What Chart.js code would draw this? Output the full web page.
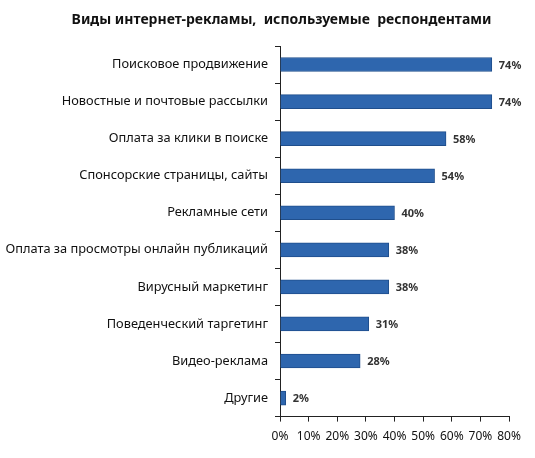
<!DOCTYPE html>
<html>
<head>
<meta charset="utf-8">
<script src="https://cdn.jsdelivr.net/npm/chart.js@4"></script>
<style>
  html, body { margin: 0; padding: 0; background: #fff; }
  #wrap { width: 535px; height: 458px; }
</style>
</head>
<body>
<div id="wrap"><canvas id="myChart"></canvas></div>
<script>
// data
const categories = [
    'Поисковое продвижение',
    'Новостные и почтовые рассылки',
    'Оплата за клики в поиске',
    'Спонсорские страницы, сайты',
    'Рекламные сети',
    'Оплата за просмотры онлайн публикаций',
    'Вирусный маркетинг',
    'Поведенческий таргетинг',
    'Видео-реклама',
    'Другие'
];
const shares = [74, 74, 58, 54, 40, 38, 38, 31, 28, 2];
const xTicks = [0, 10, 20, 30, 40, 50, 60, 70, 80];
const titleText = 'Виды интернет-рекламы,  используемые  респондентами';

// value labels at the end of each bar + the title (sits a bit right of centre)
const extras = {
    id: 'extras',
    afterDatasetsDraw(chart) {
        const ctx = chart.ctx;
        const meta = chart.getDatasetMeta(0);
        ctx.save();
        ctx.font = 'bold 11px "Noto Sans"';
        ctx.fillStyle = '#333';
        ctx.textBaseline = 'middle';
        meta.data.forEach((bar, i) => {
            ctx.fillText(shares[i] + '%', bar.x + 7, bar.y + 1);
        });

        ctx.font = 'bold 14px "Noto Sans"';
        ctx.fillStyle = '#111';
        ctx.textAlign = 'center';
        ctx.fillText(titleText, (chart.width + 28) / 2, 20);
        ctx.restore();
    }
};

const ctx = document.getElementById('myChart').getContext('2d');
const myChart = new Chart(ctx, {
    type: 'bar',
    data: {
        labels: categories,
        datasets: [{
            data: shares,
            backgroundColor: '#2E66AE',
            borderColor: '#1F4E8C',
            borderWidth: 1,
            borderSkipped: 'left',
            barThickness: 14
        }]
    },
    options: {
        indexAxis: 'y',
        responsive: true,
        maintainAspectRatio: false,
        animation: false,
        layout: { padding: { left: 0, right: 26, top: 46, bottom: 6 } },
        plugins: {
            legend: { display: false },
            tooltip: { enabled: false },
            title: { display: false }
        },
        scales: {
            x: {
                min: 0,
                max: 80,
                afterBuildTicks(scale) {
                    scale.ticks = xTicks.map(v => ({ value: v }));
                },
                border: { color: '#222', width: 1 },
                grid: { drawOnChartArea: false, tickLength: 5, color: '#222' },
                ticks: {
                    color: '#111',
                    font: { family: '"Noto Sans"', size: 12 },
                    padding: 8,
                    maxRotation: 0,
                    minRotation: 0,
                    autoSkip: false,
                    callback: v => v + '%'
                }
            },
            y: {
                afterFit(scale) { scale.width = 280; },
                border: { color: '#222', width: 1 },
                grid: { drawOnChartArea: false, offset: true, tickLength: 5, color: '#222' },
                ticks: {
                    color: '#111',
                    font: { family: '"Noto Sans"', size: 12.8 },
                    padding: 7
                }
            }
        }
    },
    plugins: [extras]
});
</script>
</body>
</html>
